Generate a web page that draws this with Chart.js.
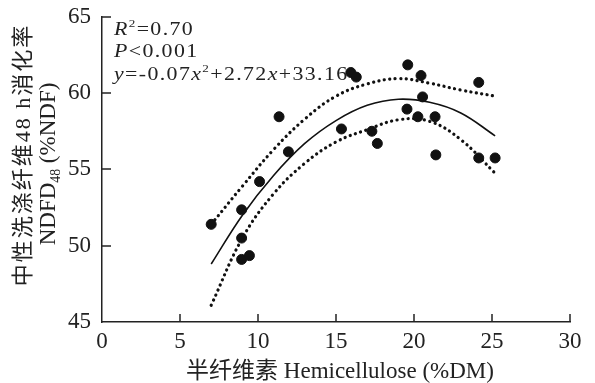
<!DOCTYPE html>
<html>
<head>
<meta charset="utf-8">
<title>NDFD48 vs Hemicellulose</title>
<script src="https://cdn.jsdelivr.net/npm/chart.js"></script>
<style>
    body { margin: 0; background: #fff; }
    #wrap { width: 595px; height: 383px; }
</style>
</head>
<body>
<div id="wrap"><canvas id="chart"></canvas></div>
<script>
    // observed points
    const hemi = [7.0, 8.95, 8.95, 8.95, 9.45, 10.1, 11.35, 11.95, 15.35, 15.95, 16.3, 17.3, 17.65, 19.55, 19.6, 20.25, 20.45, 20.55, 21.35, 21.4, 24.15, 24.15, 25.2];
    const ndfd = [51.4, 52.35, 50.5, 49.1, 49.35, 54.2, 58.45, 56.15, 57.65, 61.35, 61.05, 57.5, 56.7, 58.95, 61.85, 58.45, 61.15, 59.75, 58.45, 55.95, 60.7, 55.75, 55.75];

    // fitted curve and 95% band
    const curveX = [7, 9, 11, 13, 15, 17, 19, 21, 23, 25.2];
    const fitY   = [48.8, 52.0, 54.6, 56.7, 58.2, 59.2, 59.6, 59.4, 58.7, 57.2];
    const upperY = [51.4, 53.9, 56.3, 58.3, 59.8, 60.6, 60.95, 60.65, 60.2, 59.8];
    const lowerY = [46.1, 50.5, 53.4, 55.4, 56.8, 57.6, 58.25, 58.15, 56.95, 54.75];

    const xTicks = [0, 5, 10, 15, 20, 25, 30];
    const yTicks = [45, 50, 55, 60, 65];

    const SERIF = '"Liberation Serif", "Noto Sans CJK SC", serif';
    const INK = '#222';

    const pts = (xs, ys) => xs.map((x, i) => ({ x: x, y: ys[i] }));

    // draws a line of text made of pieces (italic / superscript / subscript)
    function drawRich(ctx, x, y, parts, size, sx, spacing) {
        ctx.save();
        ctx.translate(x, y);
        ctx.scale(sx, 1);
        ctx.letterSpacing = spacing + 'px';
        ctx.textAlign = 'left';
        ctx.textBaseline = 'alphabetic';
        let cx = 0;
        parts.forEach(p => {
            const s = p.sup || p.sub ? size * 0.6 : size;
            ctx.font = (p.it ? 'italic ' : '') + s + 'px ' + SERIF;
            const dy = p.sup ? -size * 0.42 : (p.sub ? size * 0.2 : 0);
            ctx.fillText(p.t, cx, dy);
            cx += ctx.measureText(p.t).width;
        });
        ctx.restore();
        return cx;
    }

    const decor = {
        id: 'decor',
        afterDraw(chart) {
            const ctx = chart.ctx;
            const xs = chart.scales.x, ys = chart.scales.y;
            const area = chart.chartArea;
            ctx.save();
            ctx.strokeStyle = INK;
            ctx.lineWidth = 1.5;
            // inward tick marks
            xTicks.slice(1).forEach(v => {
                const px = Math.round(xs.getPixelForValue(v));
                ctx.beginPath();
                ctx.moveTo(px, area.bottom);
                ctx.lineTo(px, area.bottom - 8);
                ctx.stroke();
            });
            yTicks.slice(1).forEach(v => {
                const py = Math.round(ys.getPixelForValue(v));
                ctx.beginPath();
                ctx.moveTo(area.left, py);
                ctx.lineTo(area.left + 9, py);
                ctx.stroke();
            });

            ctx.fillStyle = INK;
            // x title
            ctx.font = '23px ' + SERIF;
            ctx.textAlign = 'center';
            ctx.textBaseline = 'alphabetic';
            ctx.fillText('半纤维素 Hemicellulose (%DM)', 340, 378);

            // y title, two rotated lines
            ctx.save();
            ctx.translate(30, 155);
            ctx.rotate(-Math.PI / 2);
            ctx.font = '22px ' + SERIF;
            ctx.letterSpacing = '2px';
            ctx.textAlign = 'center';
            ctx.fillText('中性洗涤纤维48 h消化率', 0, 0);
            ctx.restore();

            ctx.save();
            ctx.translate(55, 164);
            ctx.rotate(-Math.PI / 2);
            const line2 = [{ t: 'NDFD' }, { t: '48', sub: true }, { t: ' (%NDF)' }];
            let w = 0;
            line2.forEach(p => {
                ctx.font = (p.sub ? 23 * 0.6 : 23) + 'px ' + SERIF;
                w += ctx.measureText(p.t).width;
            });
            drawRich(ctx, -w / 2, 0, line2, 23, 1, 0);
            ctx.restore();

            // regression statistics
            drawRich(ctx, 114, 35, [{ t: 'R', it: true }, { t: '2', sup: true }, { t: '=0.70' }], 19, 1.15, 1.2);
            drawRich(ctx, 114, 57, [{ t: 'P', it: true }, { t: '<0.001' }], 19, 1.15, 1.2);
            drawRich(ctx, 114, 80, [
                { t: 'y', it: true }, { t: '=-0.07' }, { t: 'x', it: true }, { t: '2', sup: true },
                { t: '+2.72' }, { t: 'x', it: true }, { t: '+33.16' }
            ], 19, 1.15, 1.2);
            ctx.restore();
        }
    };

    const lineStyle = {
        showLine: true,
        pointRadius: 0,
        borderColor: '#111',
        tension: 0.4,
        fill: false
    };

    new Chart(document.getElementById('chart'), {
        type: 'scatter',
        data: {
            datasets: [
                {
                    label: 'NDFD48',
                    data: pts(hemi, ndfd),
                    backgroundColor: '#111',
                    borderColor: '#111',
                    borderWidth: 1,
                    pointRadius: 5
                },
                Object.assign({ label: 'fit', data: pts(curveX, fitY), borderWidth: 1.6 }, lineStyle),
                Object.assign({ label: 'upper', data: pts(curveX, upperY), borderWidth: 3.2,
                    borderDash: [0.1, 5.4], borderCapStyle: 'round' }, lineStyle),
                Object.assign({ label: 'lower', data: pts(curveX, lowerY), borderWidth: 3.2,
                    borderDash: [0.1, 5.4], borderCapStyle: 'round' }, lineStyle)
            ]
        },
        options: {
            responsive: true,
            maintainAspectRatio: false,
            animation: false,
            layout: { padding: { top: 15, right: 25, left: 0, bottom: 0 } },
            plugins: {
                legend: { display: false },
                tooltip: { enabled: false }
            },
            scales: {
                x: {
                    type: 'linear',
                    min: 0, max: 30,
                    afterBuildTicks: s => { s.ticks = xTicks.map(v => ({ value: v })); },
                    afterFit: s => { s.height = 61; },
                    grid: { display: false },
                    border: { display: true, color: INK, width: 1.5 },
                    ticks: { color: INK, padding: -2, maxRotation: 0, font: { family: SERIF, size: 23 } }
                },
                y: {
                    min: 45, max: 65,
                    afterBuildTicks: s => { s.ticks = yTicks.map(v => ({ value: v })); },
                    afterFit: s => { s.width = 102; },
                    grid: { display: false },
                    border: { display: true, color: INK, width: 1.5 },
                    ticks: { color: INK, padding: 3, font: { family: SERIF, size: 23 } }
                }
            }
        },
        plugins: [decor]
    });
</script>
</body>
</html>
